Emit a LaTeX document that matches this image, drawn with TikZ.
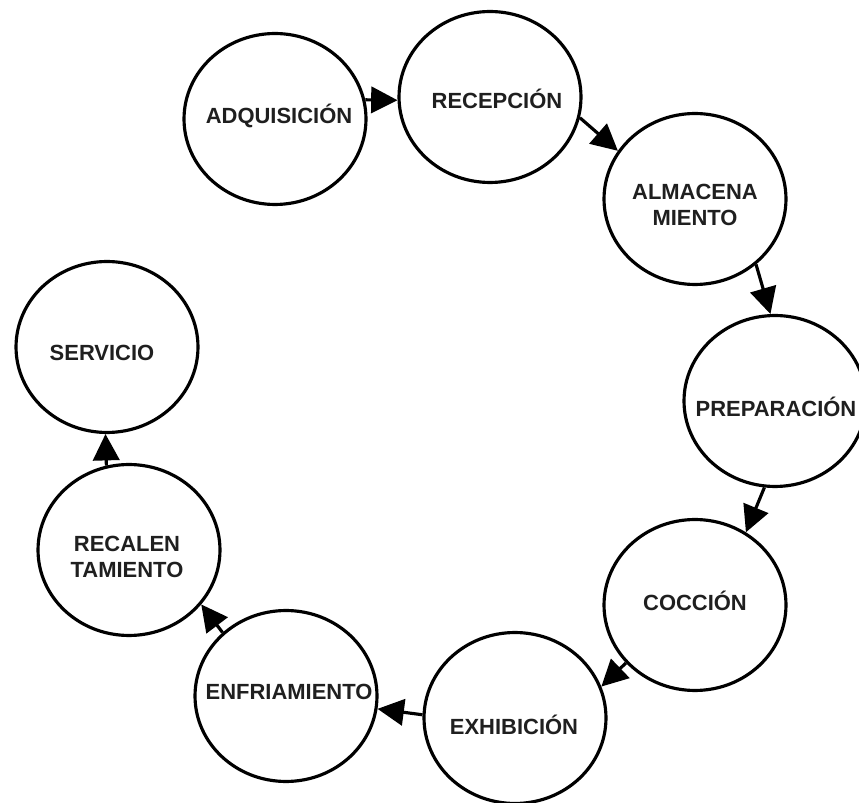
\documentclass[tikz,border=0pt]{standalone}
\usepackage{fontspec}
\setmainfont{Liberation Sans}
\usetikzlibrary{shapes.geometric,arrows.meta}
\begin{document}
\begin{tikzpicture}[x=0.02cm,y=-0.02cm,
  stage/.style={ellipse, draw, line width=1.8pt, minimum width=3.64cm,
    minimum height=3.42cm, inner sep=0pt},
  lbl/.style={font=\fontsize{12.5}{14.7}\selectfont\bfseries, align=center,
    text=black!88, inner sep=0pt},
  flow/.style={line width=1.8pt, -{Triangle[length=15pt,width=15pt]}}]
\useasboundingbox (0,0) rectangle (859,803);
\fill[white] (0,0) rectangle (859,803);

% process stages
\node[stage] (adq)   at (275,119) {};
\node[stage] (rec)   at (490,97)  {};
\node[stage] (alm)   at (695,199) {};
\node[stage] (prep)  at (775,401) {};
\node[stage] (coc)   at (695,605) {};
\node[stage] (exh)   at (515,718) {};
\node[stage] (enf)   at (286,696) {};
\node[stage] (recal) at (129,550) {};
\node[stage] (serv)  at (107,347) {};

% stage names
\node[lbl] (tadq)   at (279,116) {ADQUISICIÓN};
\node[lbl] (trec)   at (497,99)  {RECEPCIÓN};
\node[lbl] (talm)   at (695,205) {ALMACENA\\MIENTO};
\node[lbl] (tprep)  at (776,407) {PREPARACIÓN};
\node[lbl] (tcoc)   at (695,601) {COCCIÓN};
\node[lbl] (tenf)   at (289,692) {ENFRIAMIENTO};
\node[lbl] (texh)   at (514,725) {EXHIBICIÓN};
\node[lbl] (tserv)  at (102,353) {SERVICIO};
\node[lbl] (trecal) at (127,557) {RECALEN\\TAMIENTO};

% flow between stages
\draw[flow] (adq.12)    -- (rec.182);
\draw[flow] (rec.-13)   -- (alm.148);
\draw[flow] (alm.-47)   -- (prep.93);
\draw[flow] (prep.263)  -- (coc.55);
\draw[flow] (coc.220)   -- (exh.20);
\draw[flow] (exh.178)   -- (enf.-8);
\draw[flow] (enf.135)   -- (recal.-37);
\draw[flow] (recal.105) -- (serv.269);
\end{tikzpicture}
\end{document}
